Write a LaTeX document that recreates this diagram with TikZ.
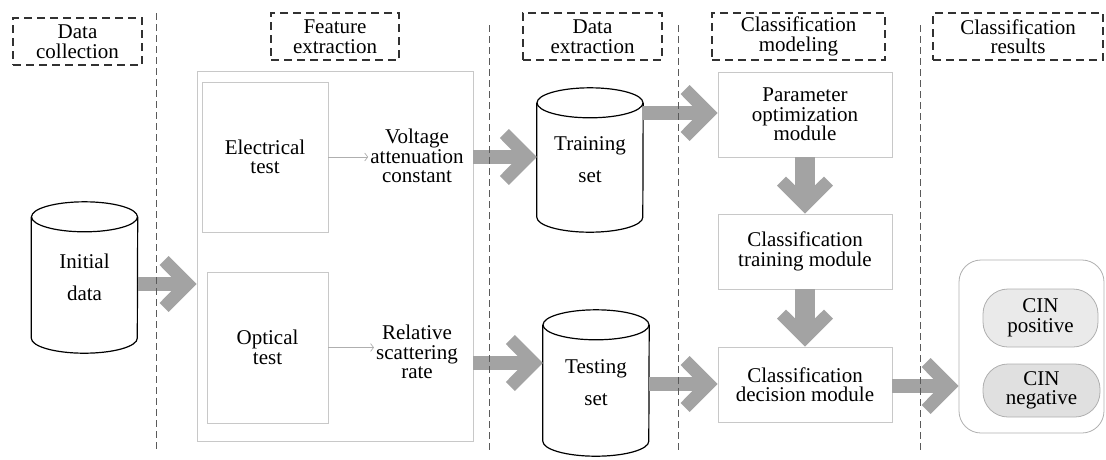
\documentclass[tikz,border=0pt]{standalone}
\usepackage{fontspec}
\setmainfont{Liberation Serif}
\usetikzlibrary{arrows.meta,calc}
\definecolor{arrowgray}{RGB}{163,163,163}
\definecolor{boxgray}{RGB}{200,200,200}
\definecolor{dashgray}{RGB}{50,50,50}
\definecolor{vlinegray}{RGB}{90,90,90}
\definecolor{thingray}{RGB}{175,175,175}
\definecolor{pillfill}{RGB}{234,234,234}
\definecolor{pillfilltwo}{RGB}{224,224,224}
\definecolor{pillborder}{RGB}{175,175,175}
\newcommand\mainfs{\fontsize{21}{19.5}\selectfont}
\newcommand\cylfs{\fontsize{21}{32}\selectfont}
\pgfdeclarearrow{
  name=Chevron,
  setup code={
    \pgfarrowssettipend{0pt}
    \pgfarrowssetlineend{-18pt}
    \pgfarrowssetbackend{-37pt}
    \pgfarrowshullpoint{0pt}{0pt}
    \pgfarrowshullpoint{-37pt}{28pt}
    \pgfarrowshullpoint{-37pt}{-28pt}
  },
  drawing code={
    \pgfpathmoveto{\pgfqpoint{0pt}{0pt}}
    \pgfpathlineto{\pgfqpoint{-28pt}{28pt}}
    \pgfpathlineto{\pgfqpoint{-37pt}{19pt}}
    \pgfpathlineto{\pgfqpoint{-18.4pt}{0pt}}
    \pgfpathlineto{\pgfqpoint{-37pt}{-19pt}}
    \pgfpathlineto{\pgfqpoint{-28pt}{-28pt}}
    \pgfpathclose
    \pgfusepathqfill
  }
}
\newcommand\cyloutline[1]{%
  \draw[cylline] ($(#1.north west)+(0,-15)$) -- ($(#1.south west)+(0,15)$)
    arc[start angle=180, end angle=360, x radius=53pt, y radius=15pt] -- ($(#1.north east)+(0,-15)$);
  \draw[cylline] ($(#1.north)+(0,-15)$) ellipse[x radius=53pt, y radius=15pt];
}
\begin{document}
\begin{tikzpicture}[x=1pt,y=1pt,
  hdr/.style={draw=dashgray, line width=1.7pt, dash pattern=on 8pt off 5pt, minimum height=47pt, inner sep=0pt, align=center, font=\mainfs},
  lbox/.style={draw=boxgray, line width=0.9pt, inner sep=0pt, align=center, font=\mainfs},
  cylnode/.style={inner sep=0pt, align=center, font=\cylfs, minimum width=106pt},
  cylline/.style={draw=black, line width=1.2pt},
  fat/.style={draw=arrowgray, fill=arrowgray, line width=14pt, -Chevron},
  fatv/.style={fat, line width=20pt},
  thinarr/.style={draw=thingray, line width=0.7pt, -{Straight Barb[length=3pt,width=8pt]}},
  vline/.style={draw=vlinegray, line width=0.8pt, dash pattern=on 7pt off 4pt},
  lbl/.style={inner sep=2pt, align=center, font=\mainfs},
  pill/.style={draw=pillborder, line width=0.8pt, rounded corners=25pt, inner sep=0pt, align=center, font=\mainfs},
]
\useasboundingbox (0,0) rectangle (1106,-459);
% headers
\node[hdr, minimum width=129pt] (hdc) at (77.5,-41.5) {Data\\collection};
\node[hdr, minimum width=128pt] (hfe) at (335,-36.5) {Feature\\extraction};
\node[hdr, minimum width=139pt] (hde) at (592.5,-36.5) {Data\\extraction};
\node[hdr, minimum width=173pt] (hcm) at (798.5,-36.5) {Classification\\modeling};
\node[hdr, minimum width=170pt] (hcr) at (1018,-36.5) {Classification\\results};
% feature extraction
\node[lbox, minimum width=276pt, minimum height=370pt] (feat) at (335,-256) {};
\node[lbox, minimum width=126pt, minimum height=150pt] (elec) at (265,-157) {Electrical\\test};
\node[lbox, minimum width=121pt, minimum height=151pt] (opt) at (267.5,-347.5) {Optical\\test};
\node[lbl] (volt) at (417,-156) {Voltage\\attenuation\\constant};
\node[lbl] (rel) at (417,-352) {Relative\\scattering\\rate};
% cylinders
\node[cylnode, minimum height=151pt] (init) at (84.5,-277.5) {Initial\\data};
\node[cylnode, minimum height=144pt] (train) at (590,-160) {Training\\set};
\node[cylnode, minimum height=146pt] (test) at (596,-383) {Testing\\set};
\cyloutline{init}
\cyloutline{train}
\cyloutline{test}
% modules
\node[lbox, minimum width=174pt, minimum height=85pt] (param) at (805,-114.5) {Parameter\\optimization\\module};
\node[lbox, minimum width=174pt, minimum height=75pt] (trmod) at (805,-251.5) {Classification\\training module};
\node[lbox, minimum width=174pt, minimum height=75pt] (dec) at (805,-384.5) {Classification\\decision module};
% results
\node[draw=pillborder, line width=0.8pt, rounded corners=22pt, minimum width=145pt, minimum height=173pt] (res) at (1031.5,-346.5) {};
\node[pill, fill=pillfill, minimum width=115pt, minimum height=58pt] (pos) at (1040.5,-318) {CIN\\positive};
\node[pill, fill=pillfilltwo, minimum width=117pt, minimum height=53pt] (neg) at (1041.5,-390.5) {CIN\\negative};
% thin arrows
\draw[thinarr] (elec.east) -- (volt.west |- elec.east);
\draw[thinarr] (opt.east) -- (rel.west |- opt.east);
% fat arrows
\draw[fat] (init.east |- 0,-284) -- (feat.west |- 0,-284);
\draw[fat] (feat.east |- 0,-157) -- (train.west |- 0,-157);
\draw[fat] (train.east |- 0,-113) -- (param.west |- 0,-113);
\draw[fat] (feat.east |- 0,-363) -- (test.west |- 0,-363);
\draw[fat] (test.east |- 0,-384) -- (dec.west |- 0,-384);
\draw[fat] (dec.east |- 0,-386) -- (res.west |- 0,-386);
\draw[fatv] (param.south) -- (trmod.north);
\draw[fatv] (trmod.south) -- (dec.north);
% separators
\draw[vline] (156,-13) -- (156,-452);
\draw[vline] (489,-25) -- (489,-452);
\draw[vline] (678,-25) -- (678,-452);
\draw[vline] (920,-25) -- (920,-452);
\end{tikzpicture}
\end{document}
